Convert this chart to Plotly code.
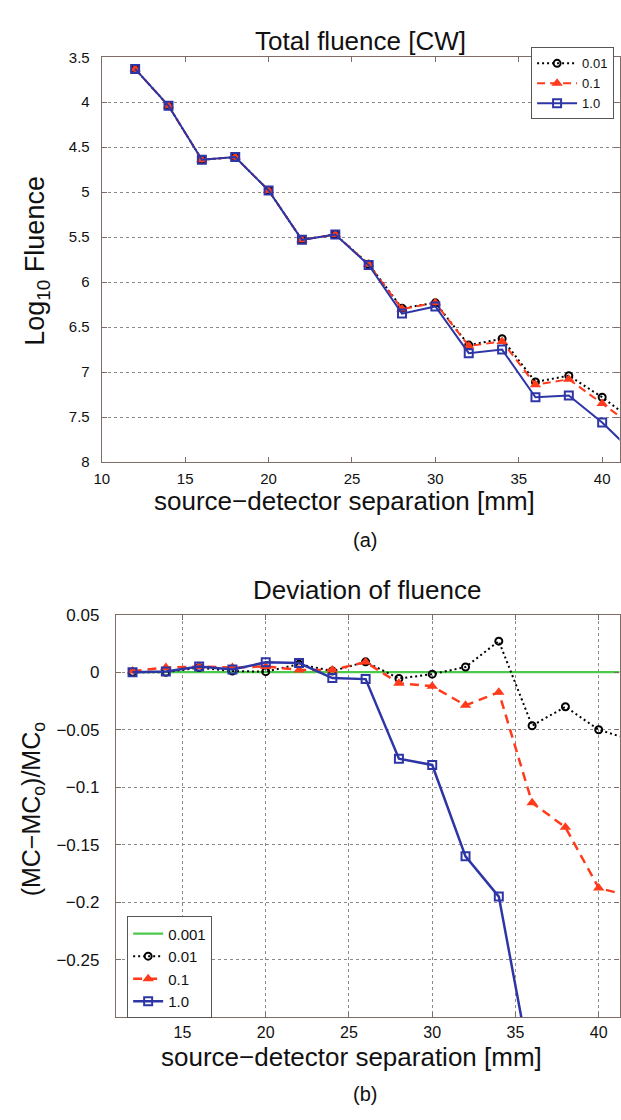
import plotly.graph_objects as go

W, H = 621, 1120

# ---------------- data ----------------
x_top = [12, 14, 16, 18, 20, 22, 24, 26, 28, 30, 32, 34, 36, 38, 40, 42]
top_001 = [3.63, 4.04, 4.64, 4.61, 4.98, 5.53, 5.47, 5.80, 6.29, 6.23, 6.70, 6.63, 7.11, 7.04, 7.28, 7.56]
top_01 = [3.63, 4.04, 4.64, 4.61, 4.98, 5.53, 5.47, 5.80, 6.30, 6.23, 6.71, 6.66, 7.14, 7.08, 7.35, 7.62]
top_10 = [3.63, 4.04, 4.64, 4.61, 4.98, 5.53, 5.47, 5.81, 6.35, 6.27, 6.79, 6.75, 7.28, 7.26, 7.56, 7.92]

x_bot = [12, 14, 16, 18, 20, 22, 24, 26, 28, 30, 32, 34, 36, 38, 40, 42]
bot_0001 = [0.0] * 16
bot_001 = [0.0, 0.0, 0.004, 0.001, 0.0005, 0.007, 0.001, 0.009, -0.0055, -0.0017,
           0.0045, 0.027, -0.0465, -0.030, -0.050, -0.059]
bot_01 = [0.001, 0.004, 0.005, 0.004, 0.005, 0.002, 0.002, 0.0088, -0.0097, -0.0122,
          -0.0288, -0.0174, -0.1134, -0.1348, -0.1875, -0.195]
x_bot_10 = [12, 14, 16, 18, 20, 22, 24, 26, 28, 30, 32, 34, 36]
bot_10 = [0.0, 0.0006, 0.005, 0.0023, 0.0086, 0.008, -0.0051, -0.006, -0.0752, -0.0806,
          -0.160, -0.195, -0.35]

top_ticks = [3.5, 4, 4.5, 5, 5.5, 6, 6.5, 7, 7.5, 8]
top_ticktext = ["3.5", "4", "4.5", "5", "5.5", "6", "6.5", "7", "7.5", "8"]
bot_ticks = [0.05, 0, -0.05, -0.1, -0.15, -0.2, -0.25]
bot_ticktext = ["0.05", "0", "\u22120.05", "\u22120.1", "\u22120.15", "\u22120.2", "\u22120.25"]

# ---------------- styles ----------------
FONT = "Liberation Sans, Arial, Helvetica, sans-serif"
BLACK = "#000000"
RED = "#ff3b1c"
BLUE = "#2e36a6"
GREEN = "#4cc94c"
AXC = "#7d6d66"
GRIDC = "#8a8a8a"


def px(x):
    return x / W


def py(y):
    return 1 - y / H


fig = go.Figure()

# top panel
fig.add_trace(go.Scatter(x=x_top, y=top_001, mode="lines+markers", name="0.01",
                         line=dict(color=BLACK, width=2, dash="2px,3px"),
                         marker=dict(symbol="circle-open", size=7, color=BLACK, line=dict(width=2)),
                         xaxis="x", yaxis="y", legend="legend"))
fig.add_trace(go.Scatter(x=x_top, y=top_01, mode="lines+markers", name="0.1",
                         line=dict(color=RED, width=2, dash="8px,5px"),
                         marker=dict(symbol="triangle-up", size=10, color=RED),
                         xaxis="x", yaxis="y", legend="legend"))
fig.add_trace(go.Scatter(x=x_top, y=top_10, mode="lines+markers", name="1.0",
                         line=dict(color=BLUE, width=2),
                         marker=dict(symbol="square-open", size=8, color=BLUE, line=dict(width=2)),
                         xaxis="x", yaxis="y", legend="legend"))

# bottom panel
fig.add_trace(go.Scatter(x=x_bot, y=bot_0001, mode="lines", name="0.001",
                         line=dict(color=GREEN, width=2.2),
                         xaxis="x2", yaxis="y2", legend="legend2"))
fig.add_trace(go.Scatter(x=x_bot, y=bot_001, mode="lines+markers", name="0.01",
                         line=dict(color=BLACK, width=2, dash="2px,3px"),
                         marker=dict(symbol="circle-open", size=7, color=BLACK, line=dict(width=2)),
                         xaxis="x2", yaxis="y2", legend="legend2"))
fig.add_trace(go.Scatter(x=x_bot, y=bot_01, mode="lines+markers", name="0.1",
                         line=dict(color=RED, width=2.5, dash="9px,6px"),
                         marker=dict(symbol="triangle-up", size=10, color=RED),
                         xaxis="x2", yaxis="y2", legend="legend2"))
fig.add_trace(go.Scatter(x=x_bot_10, y=bot_10, mode="lines+markers", name="1.0",
                         line=dict(color=BLUE, width=2.5),
                         marker=dict(symbol="square-open", size=8, color=BLUE, line=dict(width=2)),
                         xaxis="x2", yaxis="y2", legend="legend2"))

axis_common = dict(showline=True, linecolor=AXC, linewidth=1.2, mirror="ticks",
                   ticks="inside", ticklen=5, tickcolor=AXC, zeroline=False)

fig.update_layout(
    width=W, height=H,
    margin=dict(l=0, r=0, t=0, b=0),
    paper_bgcolor="white", plot_bgcolor="white",
    font=dict(family=FONT, color="#111111"),
    xaxis=dict(domain=[px(95), px(619.5)], range=[10, 41.04], anchor="y",
               tickvals=[10, 15, 20, 25, 30, 35, 40], showgrid=False,
               tickfont=dict(size=15), ticklabelstandoff=3, **axis_common),
    yaxis=dict(domain=[py(460), py(49)], range=[8, 3.5], anchor="x",
               tickvals=top_ticks, ticktext=top_ticktext,
               showgrid=True, gridcolor=GRIDC, griddash="dot", gridwidth=1,
               tickfont=dict(size=15), ticklabelstandoff=8, **axis_common),
    xaxis2=dict(domain=[px(109.3), px(619.5)], range=[11, 41.25], anchor="y2",
                tickvals=[15, 20, 25, 30, 35, 40],
                showgrid=True, gridcolor=GRIDC, griddash="dot", gridwidth=1,
                tickfont=dict(size=16), ticklabelstandoff=0, **axis_common),
    yaxis2=dict(domain=[py(1024), py(615)], range=[-0.30, 0.05], anchor="x2",
                tickvals=bot_ticks, ticktext=bot_ticktext,
                showgrid=True, gridcolor=GRIDC, griddash="dot", gridwidth=1,
                tickfont=dict(size=17), ticklabelstandoff=12, **axis_common),
    legend=dict(x=px(614), y=py(39), xanchor="right", yanchor="top",
                bgcolor="white", bordercolor="#555555", borderwidth=1,
                font=dict(size=13), tracegroupgap=0, itemwidth=40),
    legend2=dict(x=px(120.7), y=py(1025), xanchor="left", yanchor="bottom",
                 bgcolor="white", bordercolor="#555555", borderwidth=1,
                 font=dict(size=15), tracegroupgap=0),
    showlegend=True,
)

ann = [
    ("Total fluence [CW]", 357, 33, 26, 0),
    ("Log<sub>10</sub> Fluence", 30, 256, 27, -90),
    ("source\u2212detector separation [mm]", 341, 500, 26, 0),
    ("(a)", 362, 539, 20, 0),
    ("Deviation of fluence", 364, 590, 26, 0),
    ("(MC\u2212MC<sub>o</sub>)/MC<sub>o</sub>", 25, 813, 25, -90),
    ("source\u2212detector separation [mm]", 348, 1064, 26, 0),
    ("(b)", 362, 1102, 20, 0),
]
for text, x, y, size, ang in ann:
    fig.add_annotation(text=text, x=px(x), y=py(y), xref="paper", yref="paper",
                       xanchor="center", yanchor="middle", showarrow=False,
                       textangle=ang, font=dict(size=size, family=FONT, color="#111111"))

fig.write_html("out.html")
